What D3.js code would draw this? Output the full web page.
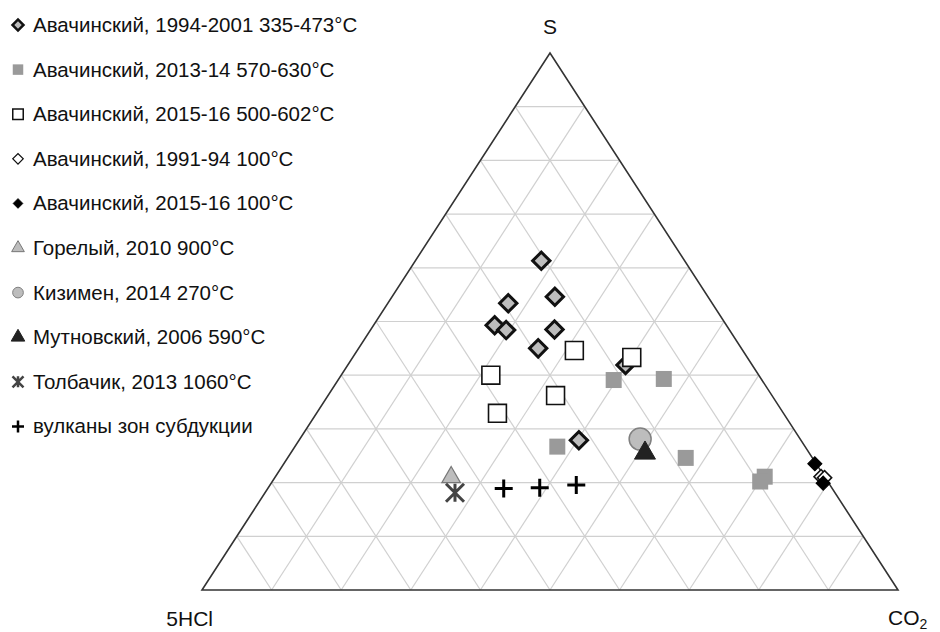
<!DOCTYPE html>
<html><head><meta charset="utf-8">
<script src="https://cdn.jsdelivr.net/npm/d3@7/dist/d3.min.js"></script>
<style>body{margin:0;background:#fff}svg{display:block}text{font-family:"Liberation Sans",Arial,sans-serif;fill:#111}</style>
</head><body><svg id="c" width="940" height="632"></svg>
<script>
// Data: [S %, CO2 %] (5HCl = 100 - S - CO2)
const avach9401 = [[61.3,18.1],[53.4,17.3],[54.6,23.4],[49.3,17.4],[48.4,19.5],[48.5,26.4],[45.0,25.8],[41.9,39.9],[27.9,40.2]];
const avach1314 = [[39.1,39.6],[39.3,46.7],[26.7,37.7],[24.6,57.2],[21.1,70.3],[20.2,70.1]];
const avach1516hot = [[44.6,31.2],[43.3,40.1],[40.0,21.5],[36.2,32.7],[32.9,26.0]];
const avach9194 = [[21.1,78.4],[20.9,79.0]];
const avach1516cold = [[23.5,76.3],[19.9,79.3]];
const gorely = [[21.0,25.3]];
const kizimen = [[28.1,48.9]];
const mutnovsky = [[25.5,50.9]];
const tolbachik = [[18.1,27.3]];
const subduction = [[18.9,33.9],[19.05,39.0],[19.55,44.0]];
const legendLabels = ["Авачинский, 1994-2001 335-473°C","Авачинский, 2013-14 570-630°C","Авачинский, 2015-16 500-602°C","Авачинский, 1991-94 100°C","Авачинский, 2015-16 100°C","Горелый, 2010 900°C","Кизимен, 2014 270°C","Мутновский, 2006 590°C","Толбачик, 2013 1060°C","вулканы зон субдукции"];
const gridTicks = [10,20,30,40,50,60,70,80,90];

const svg = d3.select("#c");
const xL = 202, xR = 898, yB = 590, yT = 53;
const xs = d3.scaleLinear().domain([0,100]).range([xL, xR]);   // CO2 + S/2
const ys = d3.scaleLinear().domain([0,100]).range([yB, yT]);   // S
const P = (s,c) => [xs(c + s/2), ys(s)];

// grid
const g = svg.append("g").attr("stroke","#d0d0d0").attr("stroke-width",1.2);
gridTicks.forEach(t=>{
  let a=P(t,0), b=P(t,100-t); g.append("line").attr("x1",a[0]).attr("y1",a[1]).attr("x2",b[0]).attr("y2",b[1]);
  a=P(0,t); b=P(100-t,t); g.append("line").attr("x1",a[0]).attr("y1",a[1]).attr("x2",b[0]).attr("y2",b[1]);
  a=P(0,100-t); b=P(100-t,0); g.append("line").attr("x1",a[0]).attr("y1",a[1]).attr("x2",b[0]).attr("y2",b[1]);
});
const V=[P(0,0),P(0,100),P(100,0)];
svg.append("path").attr("d","M"+V.map(v=>v.join(",")).join("L")+"Z").attr("fill","none").attr("stroke","#333").attr("stroke-width",1.6);

// axis labels
svg.append("text").attr("x",xs(50)).attr("y",34).attr("text-anchor","middle").attr("font-size",21).text("S");
svg.append("text").attr("x",xL+11).attr("y",626).attr("text-anchor","end").attr("font-size",21).text("5HCl");
const co=svg.append("text").attr("x",888).attr("y",625).attr("font-size",21);
co.append("tspan").text("CO");
co.append("tspan").attr("font-size",14).attr("dy",4).text("2");

const styles = [
  {data:avach9401, sym:d3.symbolSquare, rot:45, size:150, fill:"#bdbdbd", stroke:"#111", sw:3, lsize:60, lsw:2.5},
  {data:avach1314, sym:d3.symbolSquare, rot:0, size:256, fill:"#9a9a9a", stroke:"none", sw:0, lsize:110, lsw:0},
  {data:avach1516hot, sym:d3.symbolSquare, rot:0, size:320, fill:"#fff", stroke:"#111", sw:1.6, lsize:110, lsw:1.5},
  {data:avach9194, sym:d3.symbolSquare, rot:45, size:100, fill:"#fff", stroke:"#111", sw:1.6, lsize:55, lsw:1.2},
  {data:avach1516cold, sym:d3.symbolSquare, rot:45, size:100, fill:"#000", stroke:"#000", sw:1, lsize:50, lsw:0.5},
  {data:gorely, sym:d3.symbolTriangle, rot:0, size:150, fill:"#bdbdbd", stroke:"#777", sw:1.2, lsize:70, lsw:1},
  {data:kizimen, sym:d3.symbolCircle, rot:0, size:380, fill:"#bdbdbd", stroke:"#808080", sw:1.5, lsize:90, lsw:1},
  {data:mutnovsky, sym:d3.symbolTriangle, rot:0, size:190, fill:"#222", stroke:"#222", sw:1, lsize:80, lsw:1},
  {data:tolbachik, sym:"star", rot:0, size:9, fill:"none", stroke:"#444", sw:3, lsize:5.5, lsw:2.5},
  {data:subduction, sym:"plus", rot:0, size:9, fill:"none", stroke:"#000", sw:3, lsize:6, lsw:2.5}
];
function drawMarker(sel, st, x, y, legend){
  const size = legend ? st.lsize : st.size, sw = legend ? st.lsw : st.sw;
  if(st.sym==="plus"){
    const r=size;
    sel.append("path").attr("d",`M${x-r},${y}H${x+r}M${x},${y-r}V${y+r}`).attr("stroke",st.stroke).attr("stroke-width",sw).attr("fill","none");
  } else if(st.sym==="star"){
    const r=size;
    sel.append("path").attr("d",`M${x-r},${y-r}L${x+r},${y+r}M${x+r},${y-r}L${x-r},${y+r}M${x},${y-r}V${y+r}`).attr("stroke",st.stroke).attr("stroke-width",sw).attr("fill","none");
  } else {
    sel.append("path").attr("d",d3.symbol(st.sym,size)())
      .attr("transform",`translate(${x},${y}) rotate(${st.rot})`)
      .attr("fill",st.fill).attr("stroke",st.stroke).attr("stroke-width",sw);
  }
}
const mk = svg.append("g");
styles.forEach(st=>{
  st.data.forEach(d=>{ const p=P(d[0],d[1]); drawMarker(mk, st, p[0], p[1], false); });
});

const lg = svg.append("g");
legendLabels.forEach((lab,i)=>{
  const by = 32 + i*44.6;
  drawMarker(lg, styles[i], 18, by-7, true);
  lg.append("text").attr("x",33).attr("y",by).attr("font-size",20.5).text(lab);
});
</script></body></html>
